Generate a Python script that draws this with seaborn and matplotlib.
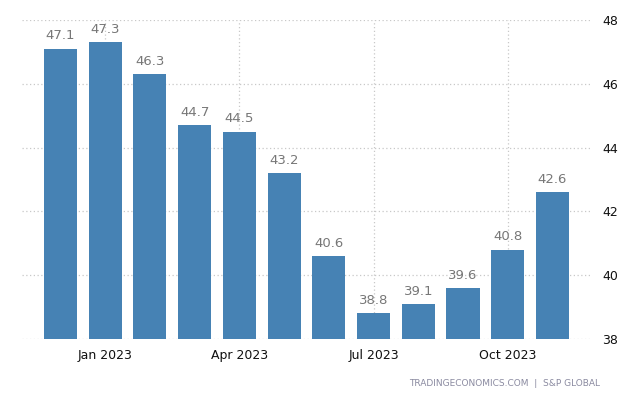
import matplotlib
matplotlib.use("Agg")
import matplotlib.pyplot as plt
import seaborn as sns
import pandas as pd

months = ["Dec 2022", "Jan 2023", "Feb 2023", "Mar 2023", "Apr 2023", "May 2023",
          "Jun 2023", "Jul 2023", "Aug 2023", "Sep 2023", "Oct 2023", "Nov 2023"]
values = [47.1, 47.3, 46.3, 44.7, 44.5, 43.2, 40.6, 38.8, 39.1, 39.6, 40.8, 42.6]
tick_months = ["Jan 2023", "Apr 2023", "Jul 2023", "Oct 2023"]
y_ticks = [38, 40, 42, 44, 46, 48]

df = pd.DataFrame({"month": months, "value": values})

sns.set_theme(style="white")
plt.rcParams['font.family'] = ['DejaVu Sans']

fig = plt.figure(figsize=(6.4, 4.0), dpi=100)
ax = fig.add_axes([22/640, 1 - 339/400, (590 - 22)/640, (339 - 20)/400])

sns.barplot(data=df, x="month", y="value", order=months, color="#4682b4",
            saturation=1, width=0.74, ax=ax, linewidth=0)

ax.set_ylim(38, 48)
ax.set_xlim(-0.86, 11.84)

ax.yaxis.tick_right()
ax.set_yticks(y_ticks)
ax.set_yticklabels([str(t) for t in y_ticks], fontsize=9, color="#111111")
pos = [months.index(m) for m in tick_months]
ax.set_xticks(pos)
ax.set_xticklabels(tick_months, fontsize=9, color="#111111")
ax.tick_params(axis="y", length=0, pad=9)
ax.tick_params(axis="x", length=4, color="#cccccc", pad=3)
ax.set_xlabel("")
ax.set_ylabel("")

for s in ax.spines.values():
    s.set_visible(False)

ax.grid(True, axis="both", linestyle=(0, (1, 2)), color="#c8c8c8", linewidth=0.9)
ax.set_axisbelow(True)

for i, v in enumerate(values):
    ax.text(i, v + 0.2, f"{v}", ha="center", va="bottom", fontsize=9.5, color="#777777")

fig.text(600/640, 1 - 383/400, "TRADINGECONOMICS.COM  |  S&P GLOBAL", ha="right",
         va="center", fontsize=6.5, color="#8a8aa0")

fig.savefig("out.png", dpi=100)
